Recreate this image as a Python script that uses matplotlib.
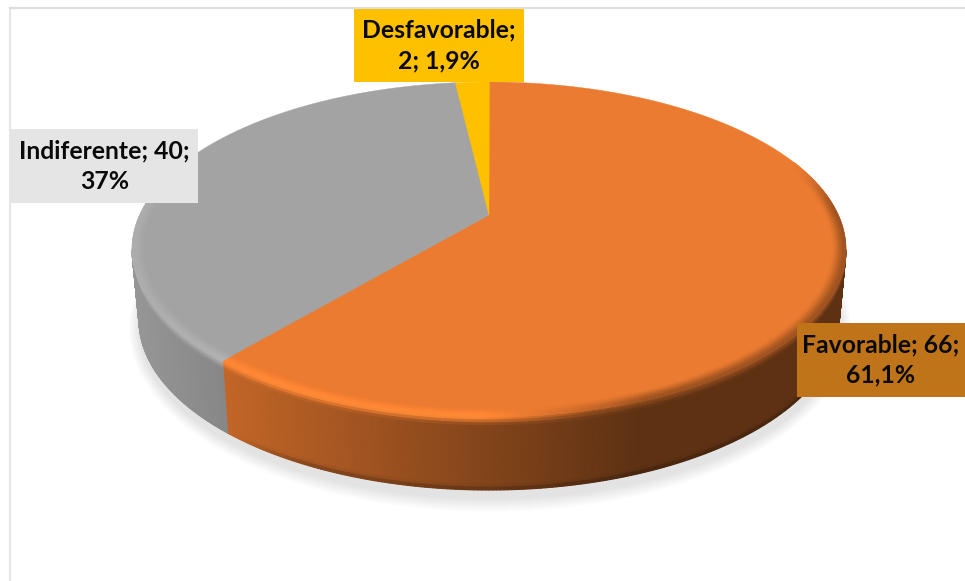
import numpy as np
import matplotlib
matplotlib.use('Agg')
import matplotlib.pyplot as plt
from matplotlib.collections import PolyCollection
from matplotlib.patches import Ellipse, Polygon, Rectangle

# Chart data
categories = ['Favorable', 'Indiferente', 'Desfavorable']
values = [66, 40, 2]
percent_labels = ['61,1%', '37%', '1,9%']
label_texts = ['Favorable; 66;\n61,1%', 'Indiferente; 40;\n37%', 'Desfavorable;\n2; 1,9%']

# Colours
slice_colors = ['#EB7B30', '#A3A3A3', '#FFC000']
box_colors = ['#C0741A', '#E5E5E5', '#FFC000']
frame_color = '#DEDEDE'

# Label boxes as left, top, right, bottom in pixels
label_boxes = [(797, 323, 965, 397), (11, 129, 198, 203), (354, 9, 524, 82)]

# Perspective of the pie's top face
CX, APEX_Y = 489.0, 215.0
TILT = 0.206
SCALE_X, SCALE_Y = 349.3, 116.1
TOP_A, TOP_B, TOP_CY = 357.0, 167.5, 249.5
# Lower rim of the slab
BOT_A, BOT_B, BOT_CY = 350.0, 170.0, 320.0


def project(deg, r=1.0):
    # Clockwise angle from twelve o'clock on the disk, to pixels
    t = np.radians(deg)
    u, v = r * np.sin(t), r * np.cos(t)
    w = 1 + TILT * v
    return CX + SCALE_X * u / w, (APEX_Y - SCALE_Y * v) / w


def lower_rim(deg):
    x, y = project(deg)
    return CX + (x - CX) / TOP_A * BOT_A, BOT_CY + (y - TOP_CY) / TOP_B * BOT_B


def to_rgb(c):
    return np.array(matplotlib.colors.to_rgb(c))


totals = np.cumsum(values) / np.sum(values) * 360.0
starts = np.concatenate([[0.0], totals[:-1]])


def slice_rgb(deg):
    idx = int(np.searchsorted(totals, deg % 360.0, side='right'))
    return to_rgb(slice_colors[min(idx, len(values) - 1)])


def side_mult(x):
    return np.interp(x, [132, 640], [0.92, 0.40])


def highlight(x):
    return np.interp(x, [132, 260, 480, 650], [0.75, 1.0, 1.0, 0.0])


def smooth(a):
    a = np.clip(a, 0, 1)
    return a * a * (3 - 2 * a)


fig = plt.figure(figsize=(9.65, 5.81), dpi=100, facecolor='white')
ax = fig.add_axes([0, 0, 1, 1])
ax.set_xlim(0, 965)
ax.set_ylim(581, 0)
ax.axis('off')

# Chart frame, only the top and left edges fall inside the image
ax.plot([10, 965], [8, 8], color=frame_color, lw=1.6, zorder=1)
ax.plot([10, 10], [8, 581], color=frame_color, lw=1.1, zorder=1)

# Soft shadow under the slab
for g in np.arange(14, 0, -1.0):
    ax.add_patch(Ellipse((490, 328), 2 * (BOT_A + g * 0.8), 2 * (BOT_B + g),
                         facecolor='black', edgecolor='none', alpha=0.009, zorder=2))

# Slab side, split into thin cells for the horizontal shading
side_lo, side_hi = 102.0, 258.0
step = 0.5

# Flat underlay per slice so no background shows between the cells
for start, end in zip(starts, totals):
    lo, hi = max(start, side_lo), min(end, side_hi)
    if hi <= lo:
        continue
    arc = np.arange(lo, hi + step, step)
    tx, ty = project(arc)
    bx, by = lower_rim(arc)
    pts = list(zip(tx, ty)) + list(zip(bx[::-1], by[::-1]))
    mid_x = project((lo + hi) / 2)[0]
    under = slice_rgb((lo + hi) / 2) * side_mult(mid_x)
    ax.add_patch(Polygon(pts, closed=True, facecolor=under, edgecolor='none', zorder=3))

polys, colors = [], []
side_ts = np.linspace(0, 1, 26)
for deg in np.arange(side_lo, side_hi, step):
    mid = deg + step / 2
    base = slice_rgb(mid)
    xm, _ = project(mid)
    col = base * side_mult(xm)
    x0, y0 = project(deg)
    x1, y1 = project(deg + step)
    bx0, by0 = lower_rim(deg)
    bx1, by1 = lower_rim(deg + step)
    rim_col = np.minimum(base * (1 + 0.12 * highlight(xm)), 1)
    # The lower edge only turns darker from the orange slice onwards
    low_dark = 0.25 * np.interp(xm, [228, 300], [0, 1])
    for t0, t1 in zip(side_ts[:-1], side_ts[1:]):
        tm = (t0 + t1) / 2
        c = col + (rim_col - col) * (1 - smooth(tm / 0.13)) * max(highlight(xm), 0.35)
        c = c * (1 - low_dark * smooth((tm - 0.92) / 0.08))
        polys.append([
            (x0 + (bx0 - x0) * t0, y0 + (by0 - y0) * t0),
            (x1 + (bx1 - x1) * t0, y1 + (by1 - y1) * t0),
            (x1 + (bx1 - x1) * t1, y1 + (by1 - y1) * t1),
            (x0 + (bx0 - x0) * t1, y0 + (by0 - y0) * t1),
        ])
        colors.append(c)
ax.add_collection(PolyCollection(polys, facecolors=colors, edgecolors=colors,
                                 linewidths=0.8, zorder=4))

# Top face, one flat polygon per slice
for start, end, color in zip(starts, totals, slice_colors):
    arc = np.arange(start, end + 0.25, 0.25)
    xs, ys = project(arc)
    pts = [(CX, APEX_Y)] + list(zip(xs, ys))
    ax.add_patch(Polygon(pts, closed=True, facecolor=color, edgecolor=color,
                         linewidth=0.3, zorder=5))

# Bevel along the outer edge of the top face
polys, colors = [], []
radii = np.linspace(0.96, 1.0, 11)
for deg in np.arange(0, 360, step):
    mid = deg + step / 2
    v = np.cos(np.radians(mid))
    weight = 1 - smooth(v / 0.35)
    if weight <= 0:
        continue
    base = slice_rgb(mid)
    xm, _ = project(mid)
    hl = highlight(xm)
    edge_dark = base * side_mult(xm)
    for r0, r1 in zip(radii[:-1], radii[1:]):
        a = smooth(((r0 + r1) / 2 - radii[0]) / (radii[-1] - radii[0]))
        c = base * (1 + 0.12 * hl * a)
        c = c + (edge_dark - c) * (1 - hl) * a * 0.55
        c = np.clip(base + (c - base) * weight, 0, 1)
        xa, ya = project(deg, r0)
        xb, yb = project(deg + step, r0)
        xc, yc = project(deg + step, r1)
        xd, yd = project(deg, r1)
        polys.append([(xa, ya), (xb, yb), (xc, yc), (xd, yd)])
        colors.append(c)
ax.add_collection(PolyCollection(polys, facecolors=colors, edgecolors=colors,
                                 linewidths=0.5, zorder=6))

# Data labels
for text, box, color in zip(label_texts, label_boxes, box_colors):
    left, top, right, bottom = box
    ax.add_patch(Rectangle((left, top), right - left, bottom - top,
                           facecolor=color, edgecolor='none', zorder=7))
    ax.text((left + right) / 2, (top + bottom) / 2, text, ha='center', va='center',
            family='Lato', fontweight='bold', fontsize=17.8, color='#0A0A0A',
            linespacing=1.38, zorder=8)

fig.savefig('out.png', dpi=100, facecolor='white')
plt.close(fig)
